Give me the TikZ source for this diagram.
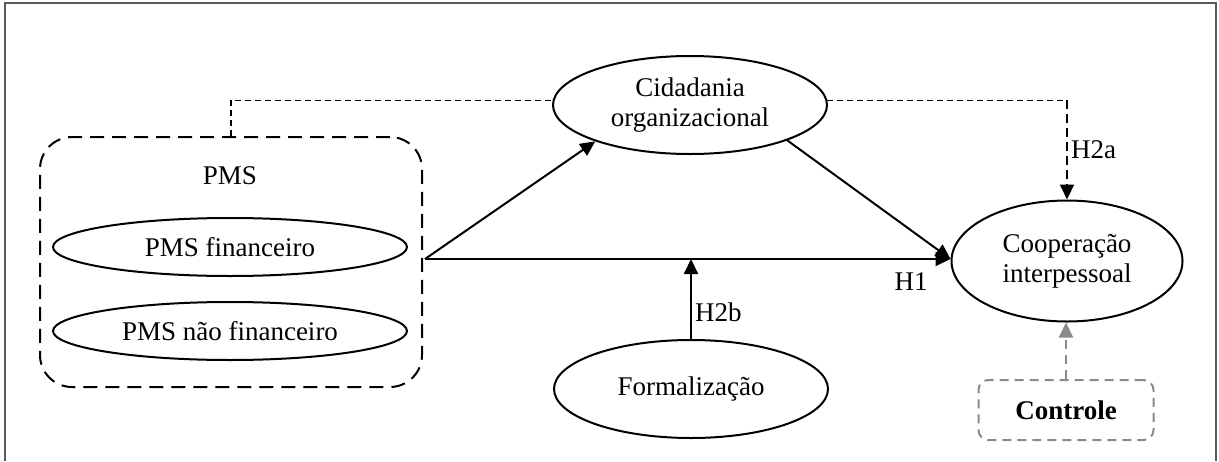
\documentclass[tikz,border=0pt]{standalone}
\usepackage{fontspec}
\setmainfont{Liberation Serif}
\usepackage{tikz}
\usetikzlibrary{shapes.geometric}
\usetikzlibrary{arrows.meta,positioning,calc}
\usepackage{xcolor}
\definecolor{framegray}{HTML}{5A5A5A}
\definecolor{ctrlgray}{HTML}{8A8A8A}
\tikzset{
  construct/.style={ellipse,draw,line width=2pt,inner sep=0pt,align=center},
  pms box/.style={draw,line width=2pt,rounded corners=32pt,dash pattern=on 14pt off 8pt},
  control box/.style={draw=ctrlgray,line width=2pt,rounded corners=10pt,dash pattern=on 9pt off 6pt},
  path/.style={line width=2pt,-{Triangle[length=15pt,width=14pt]}},
  moderation/.style={line width=1.2pt,dash pattern=on 6pt off 4pt},
  moderation arrow/.style={line width=2pt,dash pattern=on 9pt off 5pt,-{Triangle[length=15pt,width=14pt]}},
  control arrow/.style={ctrlgray,line width=2pt,dash pattern=on 9pt off 6pt,-{Triangle[length=15pt,width=14pt]}},
  hyp/.style={inner sep=3pt}
}

\begin{document}
\begin{tikzpicture}[x=1pt,y=-1pt,font=\fontsize{27}{30}\selectfont]
  \useasboundingbox (0,0) rectangle (1219,461);
  \draw[framegray,line width=2pt] (5,461) -- (5,3) -- (1216,3) -- (1216,461);

  % constructs
  \node[construct,minimum width=274pt,minimum height=98pt] (cid) at (690,105) {Cidadania\\organizacional};
  \node[construct,minimum width=231pt,minimum height=121pt] (coop) at (1067,261) {Cooperação\\interpessoal};
  \node[construct,minimum width=274pt,minimum height=98pt] (form) at (691,389) {Formalização};

  % PMS group
  \node[pms box,minimum width=382pt,minimum height=250pt] (pms) at (231,262) {};
  \node (pmslbl) at (230,176) {PMS};
  \node[construct,minimum width=354pt,minimum height=58pt] (fin) at (230,247) {PMS financeiro};
  \node[construct,minimum width=354pt,minimum height=58pt] (naofin) at (230,331) {PMS não financeiro};

  \node[control box,minimum width=175pt,minimum height=60pt] (ctrl) at (1066,410) {\textbf{Controle}};

  \coordinate (src) at (425,259);
  \coordinate (coopin) at (src -| coop.west);
  \coordinate (h2a) at (coop.north |- cid.2);

  \draw[path] (src) -- (cid.-159);
  \draw[path] (cid.-20) -- (coopin);
  \draw[path] (src) -- (coopin);
  \node[hyp] (h1) at (911,282) {H1};
  \draw[path] (form.north) -- (form.north |- src) node[hyp,pos=0.33,right] (h2blbl) {H2b};

  \draw[moderation] (pms.north) |- (cid.178);
  \draw[moderation] (cid.2) -- (h2a);
  \draw[moderation arrow] (h2a) -- (coop.north) node[hyp,midway,right] (h2albl) {H2a};

  \draw[control arrow] (ctrl.north) -- (ctrl.north |- coop.south);
\end{tikzpicture}
\end{document}
